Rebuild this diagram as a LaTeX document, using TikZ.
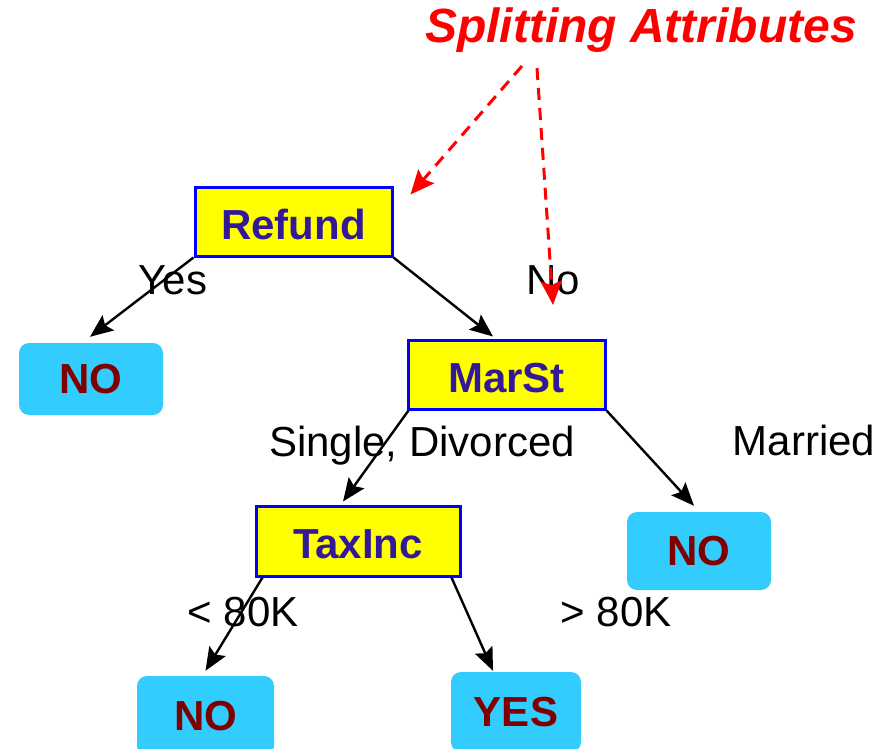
\documentclass[tikz,border=0pt]{standalone}
\usepackage{fontspec}
\setmainfont{Liberation Sans}
\usetikzlibrary{arrows.meta}
\definecolor{boxline}{RGB}{0,0,255}
\definecolor{boxfill}{RGB}{255,255,0}
\definecolor{boxtext}{RGB}{51,25,153}
\definecolor{leaffill}{RGB}{51,204,255}
\definecolor{leaftext}{RGB}{128,0,0}
\definecolor{noteRed}{RGB}{255,0,0}
\begin{document}
\begin{tikzpicture}[x=1pt,y=-1pt,
  attr/.style={draw=boxline, line width=3pt, fill=boxfill, text=boxtext,
    font=\fontsize{42}{48}\selectfont\bfseries, inner sep=0pt,
    text height=35pt, text depth=0pt},
  leaf/.style={fill=leaffill, rounded corners=10pt, text=leaftext,
    font=\fontsize{42}{48}\selectfont\bfseries, inner sep=0pt,
    text height=28pt, text depth=0pt},
  lbl/.style={font=\fontsize{42}{48}\selectfont, inner sep=0pt},
  edge/.style={line width=2.4pt, -{Stealth[length=23pt,width=19pt,inset=4pt]}},
  splitarrow/.style={noteRed, line width=3pt, dash pattern=on 12pt off 8pt,
    -{Stealth[length=24pt,width=21pt,inset=4pt]}}]
\useasboundingbox (0,0) rectangle (881,749);

% decision nodes
\node[attr, minimum width=197pt, minimum height=69pt] (refund) at (293.5,221.5) {Refund};
\node[attr, minimum width=197pt, minimum height=69pt] (marst) at (506.5,374.5) {MarSt};
\node[attr, minimum width=204pt, minimum height=70pt] (taxinc) at (358,541) {TaxInc};

% leaves
\node[leaf, minimum width=144pt, minimum height=72pt] (no1) at (91,379) {NO};
\node[leaf, minimum width=144pt, minimum height=78pt] (no2) at (699,551) {NO};
\node[leaf, minimum width=137pt, minimum height=80pt] (no3) at (205.5,716) {NO};
\node[leaf, minimum width=130pt, minimum height=80pt] (yes) at (516,712) {YES};

% branch labels
\node[lbl] (lyes) at (173,280) {Yes};
\node[lbl] (lno) at (553,280) {No};
\node[lbl] (lsingle) at (422,446) {Single, Divorced};
\node[lbl] (lmarried) at (804,440) {Married};
\node[lbl] (llt) at (243,612) {< 80K};
\node[lbl] (lgt) at (616,612) {> 80K};

% tree edges
\draw[edge] (refund.south west) -- ([xshift=-1pt,yshift=6pt]no1.north);
\draw[edge] (refund.south east) -- ([xshift=-13.5pt,yshift=2pt]marst.north);
\draw[edge] ([xshift=2pt]marst.south west) -- ([xshift=-15pt,yshift=3pt]taxinc.north);
\draw[edge] (marst.south east) -- ([xshift=-5pt,yshift=6pt]no2.north);
\draw[edge] ([xshift=8pt]taxinc.south west) -- ([yshift=5pt]no3.north);
\draw[edge] ([xshift=-10pt]taxinc.south east) -- ([xshift=-23pt,yshift=1pt]yes.north);

% annotation
\node[text=noteRed, font=\fontsize{48}{54}\selectfont\bfseries\itshape, inner sep=0pt]
  (title) at (641,30) {Splitting Attributes};
\coordinate (s1) at (522,66);
\coordinate (s2) at (537,68);
\coordinate (t2) at (553,305);
\draw[splitarrow] (s1) -- ([xshift=17pt,yshift=-9pt]refund.north east);
\draw[splitarrow] (s2) -- (t2);
\end{tikzpicture}
\end{document}
